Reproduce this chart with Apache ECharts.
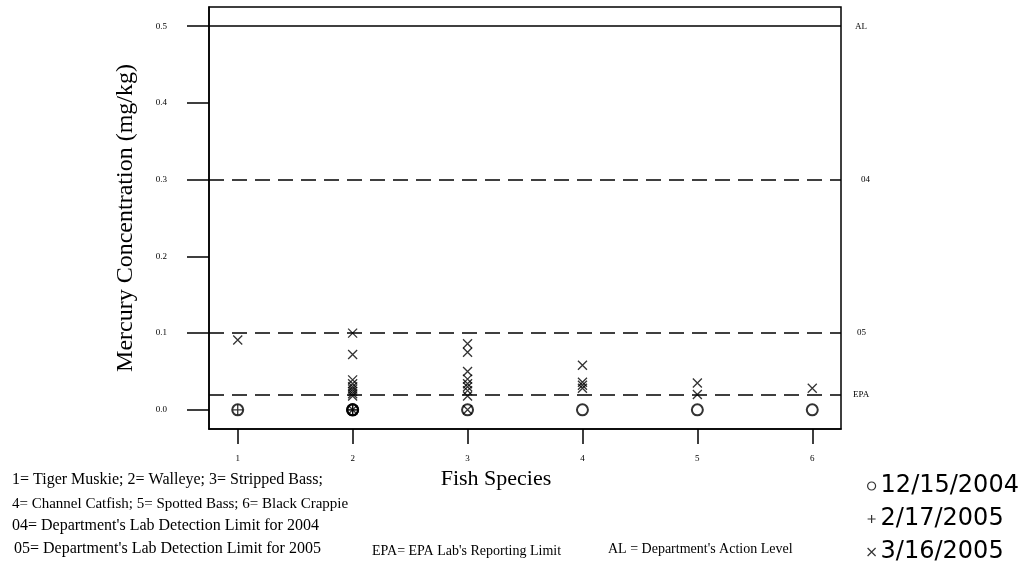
<!DOCTYPE html>
<html>
<head>
<meta charset="utf-8">
<script src="https://cdn.jsdelivr.net/npm/echarts@6/dist/echarts.min.js"></script>
<style>html,body{margin:0;padding:0;background:#fff;}#c{width:1034px;height:567px;}</style>
</head>
<body>
<div id="c"></div>
<script>
// ---- data ----
const xTicks = [1, 2, 3, 4, 5, 6];
const yTicks = [0, 0.1, 0.2, 0.3, 0.4, 0.5];
const seriesNames = ['12/15/2004', '2/17/2005', '3/16/2005'];

const dec2004X = [1, 2, 2, 2, 3, 4, 5, 6];
const dec2004Y = [0, 0, 0, 0, 0, 0, 0, 0];

const feb2005X = [1, 2, 2];
const feb2005Y = [0, 0, 0];

const mar2005X = [1, 2, 2, 2, 2, 2, 2, 2, 2, 2, 2, 3, 3, 3, 3, 3, 3, 3, 3, 3, 4, 4, 4, 4, 5, 5, 6];
const mar2005Y = [0.091, 0.100, 0.072, 0.039, 0.034, 0.030, 0.027, 0.024, 0.021, 0.018, 0,
                  0.086, 0.075, 0.050, 0.040, 0.034, 0.030, 0.025, 0.018, 0,
                  0.058, 0.036, 0.032, 0.028, 0.035, 0.020, 0.028];

const refValues = [0.5, 0.3, 0.1, 0.02];
const refLabels = ['AL', '04', '05', 'EPA'];
const refSolid = [true, false, false, false];

const footnotes = [
  "1= Tiger Muskie; 2= Walleye; 3= Stripped Bass;",
  "4= Channel Catfish; 5= Spotted Bass; 6= Black Crappie",
  "04= Department's Lab Detection Limit for 2004",
  "05= Department's Lab Detection Limit for 2005",
  "EPA= EPA Lab's Reporting Limit",
  "AL = Department's Action Level"
];

// ---- build ----
const zip = (xs, ys) => xs.map((x, i) => [x, ys[i]]);
const SERIF = 'Liberation Serif';
const xPath = 'path://M0,0L10,10M10,0L0,10';
const plusPath = 'path://M5,0L5,10M0,5L10,5';

const labelOffsets = [[14, 0], [20, 6], [16, -1], [12, 0]];
const markData = refValues.map((v, i) => ({
  yAxis: v,
  lineStyle: { type: refSolid[i] ? 'solid' : [15, 8], width: 1.5, color: '#000' },
  label: { show: true, position: 'end', formatter: refLabels[i], distance: labelOffsets[i],
           fontFamily: SERIF, fontSize: 9, color: '#000' }
}));

const chart = echarts.init(document.getElementById('c'));
chart.setOption({
  animation: false,
  backgroundColor: '#fff',
  grid: { left: 209, right: 193, top: 7, bottom: 138, show: true, borderColor: '#000', borderWidth: 1.5, backgroundColor: 'transparent' },
  xAxis: {
    type: 'value', min: 0.75, max: 6.25,
    name: 'Fish Species', nameLocation: 'middle', nameGap: 37,
    nameTextStyle: { fontFamily: SERIF, fontSize: 22, color: '#000', padding: [0, 58, 0, 0] },
    axisLine: { show: true, onZero: false, lineStyle: { color: '#000', width: 1.5 } },
    axisTick: { show: true, length: 15, customValues: xTicks, lineStyle: { color: '#000', width: 1.5 } },
    axisLabel: { customValues: xTicks, margin: 25, fontFamily: SERIF, fontSize: 9, color: '#000' },
    splitLine: { show: false }
  },
  yAxis: {
    type: 'value', min: -0.025, max: 0.525,
    name: 'Mercury Concentration (mg/kg)', nameLocation: 'middle', nameGap: 71, nameRotate: 90,
    nameTextStyle: { fontFamily: SERIF, fontSize: 24, color: '#000' },
    axisLine: { show: true, onZero: false, lineStyle: { color: '#000', width: 1.5 } },
    axisTick: { show: true, length: 22, customValues: yTicks, lineStyle: { color: '#000', width: 1.5 } },
    axisLabel: { customValues: yTicks, margin: 42, fontFamily: SERIF, fontSize: 9, color: '#000',
                 formatter: v => v.toFixed(1) },
    splitLine: { show: false }
  },
  legend: {
    orient: 'vertical', left: 867, top: 474, height: 120, padding: 0, itemGap: 9, itemWidth: 8, itemHeight: 8,
    textStyle: { fontFamily: 'DejaVu Sans', fontSize: 24, color: '#000' },
    data: [
      { name: seriesNames[0], icon: 'circle', itemStyle: { color: 'transparent', borderColor: '#000', borderWidth: 1.2 } },
      { name: seriesNames[1], icon: plusPath, itemStyle: { color: 'transparent', borderColor: '#000', borderWidth: 1.2 } },
      { name: seriesNames[2], icon: xPath, itemStyle: { color: 'transparent', borderColor: '#000', borderWidth: 1.2 } }
    ]
  },
  series: [
    {
      name: seriesNames[0], type: 'scatter', data: zip(dec2004X, dec2004Y),
      symbol: 'circle', symbolSize: 11,
      itemStyle: { color: 'transparent', borderColor: '#000', borderWidth: 2 },
      markLine: { silent: true, symbol: ['none', 'none'], data: markData, z: 1 }
    },
    {
      name: seriesNames[1], type: 'scatter', data: zip(feb2005X, feb2005Y),
      symbol: plusPath, symbolSize: 10,
      itemStyle: { color: 'transparent', borderColor: '#000', borderWidth: 1.3 }
    },
    {
      name: seriesNames[2], type: 'scatter', data: zip(mar2005X, mar2005Y),
      symbol: xPath, symbolSize: 9,
      itemStyle: { color: 'transparent', borderColor: '#000', borderWidth: 1.3 }
    }
  ],
  graphic: [
    { type: 'text', left: 12, top: 472, style: { text: footnotes[0], font: '16px "Liberation Serif"', fill: '#000' } },
    { type: 'text', left: 12, top: 497, style: { text: footnotes[1], font: '15px "Liberation Serif"', fill: '#000' } },
    { type: 'text', left: 12, top: 518, style: { text: footnotes[2], font: '16px "Liberation Serif"', fill: '#000' } },
    { type: 'text', left: 14, top: 541, style: { text: footnotes[3], font: '16px "Liberation Serif"', fill: '#000' } },
    { type: 'text', left: 372, top: 544, style: { text: footnotes[4], font: '14px "Liberation Serif"', fill: '#000' } },
    { type: 'text', left: 608, top: 542, style: { text: footnotes[5], font: '14px "Liberation Serif"', fill: '#000' } }
  ]
});
</script>
</body>
</html>
